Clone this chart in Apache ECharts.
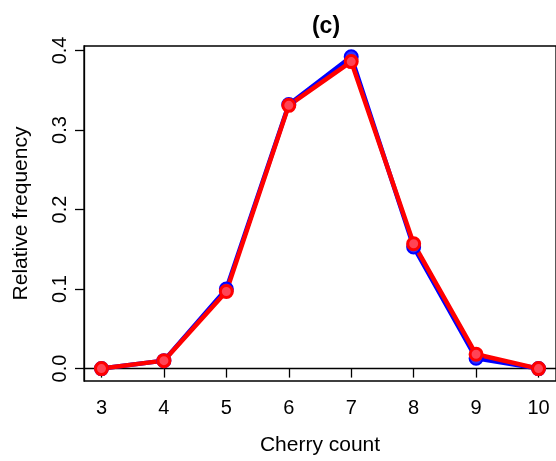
<!DOCTYPE html>
<html><head><meta charset="utf-8">
<script src="https://cdn.jsdelivr.net/npm/echarts@6/dist/echarts.min.js"></script>
<style>html,body{margin:0;padding:0;background:#fff}#c{width:556px;height:461px}</style>
</head><body><div id="c"></div>
<script>
var counts = [3, 4, 5, 6, 7, 8, 9, 10];
var blueVals = [0.0, 0.010, 0.100, 0.332, 0.392, 0.153, 0.013, 0.0];
var redVals = [0.0, 0.010, 0.097, 0.331, 0.386, 0.157, 0.018, 0.0];
var xTicks = [3, 4, 5, 6, 7, 8, 9, 10];
var yTicks = [0.0, 0.1, 0.2, 0.3, 0.4];

function pairs(v){ return counts.map(function(c,i){ return [c, v[i]]; }); }
var font = '"Liberation Sans", Arial, sans-serif';
var chart = echarts.init(document.getElementById('c'), null, {renderer:'canvas'});
chart.setOption({
  animation: false,
  backgroundColor: '#fff',
  title: { text: '(c)', left: 321, top: 10, textAlign: 'center',
    textStyle: { fontFamily: font, fontWeight: 'bold', fontSize: 23, color: '#000' } },
  grid: { left: 84, top: 46, width: 475, height: 335, show: true, borderColor: '#000', borderWidth: 1.3, backgroundColor: 'transparent' },
  xAxis: {
    type: 'value', min: 2.72, max: 10.28,
    name: 'Cherry count', nameLocation: 'middle', nameGap: 54,
    nameTextStyle: { fontFamily: font, fontSize: 21, color: '#000' },
    axisLine: { show: true, lineStyle: { color: '#000', width: 1.3 } },
    axisTick: { show: true, length: 9, customValues: xTicks, lineStyle: { color: '#000', width: 1.3 } },
    axisLabel: { customValues: xTicks, fontFamily: font, fontSize: 20, color: '#000', margin: 17 },
    splitLine: { show: false }
  },
  yAxis: {
    type: 'value', min: -0.0156, max: 0.4056,
    name: 'Relative frequency', nameLocation: 'middle', nameGap: 52, nameRotate: 90,
    nameTextStyle: { fontFamily: font, fontSize: 21, color: '#000' },
    axisLine: { show: true, lineStyle: { color: '#000', width: 1.3 } },
    axisTick: { show: true, length: 9, customValues: yTicks, lineStyle: { color: '#000', width: 1.3 } },
    axisLabel: { customValues: yTicks, rotate: 90, fontFamily: font, fontSize: 20, color: '#000', margin: 14,
      formatter: function(v){ return v.toFixed(1); } },
    splitLine: { show: false }
  },
  series: [
    { type: 'line', data: pairs(blueVals), symbol: 'circle', symbolSize: 13,
      lineStyle: { color: '#0000ff', width: 4.5 },
      itemStyle: { color: '#3333ff', borderColor: '#0000ff', borderWidth: 2 } },
    { type: 'line', data: pairs(redVals), symbol: 'circle', symbolSize: 12,
      lineStyle: { color: '#ff0000', width: 4.5 },
      itemStyle: { color: '#ff4455', borderColor: '#ff0000', borderWidth: 3 } }
  ]
});
</script></body></html>
